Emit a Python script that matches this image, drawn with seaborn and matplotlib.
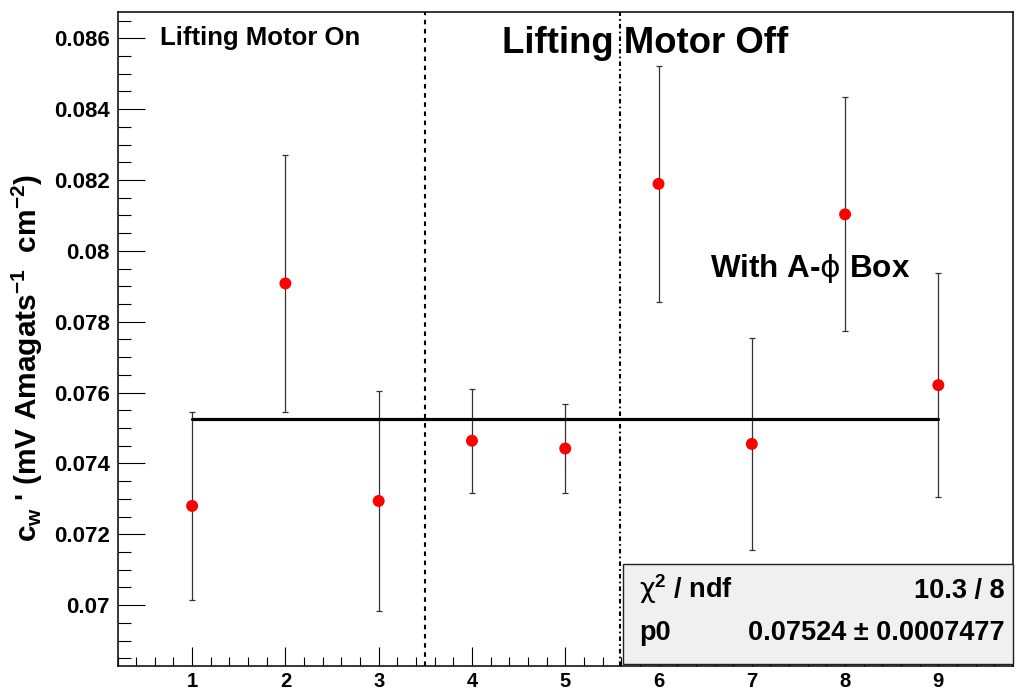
import matplotlib
matplotlib.use("Agg")
import matplotlib.pyplot as plt
import seaborn as sns
import pandas as pd
from matplotlib.patches import Rectangle
from matplotlib.ticker import MultipleLocator, FuncFormatter

# Measurement runs and the extracted coefficient c_w' with its uncertainty
run = [1, 2, 3, 4, 5, 6, 7, 8, 9]
cw = [0.07280, 0.07908, 0.07294, 0.07464, 0.07442, 0.08189, 0.07455, 0.08103, 0.07621]
cw_err = [0.00265, 0.00362, 0.00310, 0.00147, 0.00126, 0.00333, 0.00300, 0.00330, 0.00316]

# Constant (pol0) fit result
fit_p0 = 0.07524
fit_p0_err = 0.0007477
chi2 = 10.3
ndf = 8

# Run boundaries where the lifting motor state changes
motor_boundaries = [3.5, 5.59]

sns.set_style("white")
plt.rcParams.update({
    "font.family": ["Liberation Sans", "DejaVu Sans"],
    "font.weight": "bold",
    "text.color": "black",
    "axes.labelcolor": "black",
    "xtick.color": "black",
    "ytick.color": "black",
    "mathtext.fontset": "custom",
    "mathtext.rm": "Liberation Sans:bold",
    "mathtext.it": "Liberation Sans:bold",
    "mathtext.bf": "Liberation Sans:bold",
    "mathtext.sf": "DejaVu Sans:weight=normal",
})

df = pd.DataFrame({"run": run, "cw": cw, "err": cw_err})

W, H = 1022, 691
fig = plt.figure(figsize=(W / 100, H / 100), dpi=100)
L, R, T, B = 117.5, 1013.0, 11.7, 665.7
ax = fig.add_axes([L / W, 1 - B / H, (R - L) / W, (B - T) / H])

ax.errorbar(df["run"], df["cw"], yerr=df["err"], fmt="none", ecolor="#333333",
            elinewidth=0.9, capsize=2.2, capthick=0.9, zorder=2)
sns.scatterplot(data=df, x="run", y="cw", color="#ff0000", s=74,
                edgecolor="none", ax=ax, zorder=3)

fit_df = pd.DataFrame({"run": [run[0], run[-1]], "cw": [fit_p0, fit_p0]})
sns.lineplot(data=fit_df, x="run", y="cw", color="black", lw=2.3, ax=ax, zorder=4)

ax.axvline(motor_boundaries[0], color="black", lw=1.5, ls=(0, (2.2, 2.2)), zorder=1)
ax.axvline(motor_boundaries[1], color="black", lw=1.5, ls=(0, (2.2, 1.5, 0.8, 1.5)), zorder=1)

ax.set_xlim(0.2, 9.8)
ax.set_ylim(0.06829, 0.08675)
ax.set_xlabel("")
ax.set_ylabel("")

ax.xaxis.set_major_locator(MultipleLocator(1))
ax.xaxis.set_minor_locator(MultipleLocator(0.2))
ax.yaxis.set_major_locator(MultipleLocator(0.002))
ax.yaxis.set_minor_locator(MultipleLocator(0.0005))
ax.yaxis.set_major_formatter(FuncFormatter(lambda v, p: f"{v:.3f}".rstrip("0")))
ax.xaxis.set_major_formatter(FuncFormatter(lambda v, p: f"{int(round(v))}"))

ax.tick_params(axis="x", which="major", direction="in", length=13.7, width=0.8,
               labelsize=14.5, pad=4.5, top=False, bottom=True, colors="black")
ax.tick_params(axis="x", which="minor", direction="in", length=6.8, width=0.8,
               top=False, bottom=True, colors="black")
ax.tick_params(axis="y", which="major", direction="in", length=19.2, width=0.8,
               labelsize=16, pad=5.5, left=True, right=False, colors="black")
ax.tick_params(axis="y", which="minor", direction="in", length=9.6, width=0.8,
               left=True, right=False, colors="black")
for lab in ax.get_xticklabels() + ax.get_yticklabels():
    lab.set_fontweight("bold")

for s in ax.spines.values():
    s.set_visible(True)
    s.set_color("black")
    s.set_linewidth(1.1)

def fx(px):
    return (px - L) / (R - L)

def fy(py):
    return (B - py) / (B - T)

ax.text(fx(160), fy(45), "Lifting Motor On", fontsize=18.5, fontweight="bold",
        ha="left", va="baseline", transform=ax.transAxes)
ax.text(fx(501.7), fy(52.7), "Lifting Motor Off", fontsize=26.3, fontweight="bold",
        ha="left", va="baseline", transform=ax.transAxes)
ax.text(fx(710), fy(276.7), r"With A-$\mathsf{\phi}$ Box", fontsize=22.6, fontweight="bold",
        ha="left", va="baseline", transform=ax.transAxes)

fig.text(27 / W, 1 - 357.5 / H,
         r"$c_{w}$ ' (mV Amagats$^{-1}$  cm$^{-2}$)",
         rotation=90, fontsize=21.5, fontweight="bold", ha="center", va="center")

# Fit statistics box
bx0, by0, bx1, by1 = 622.7, 564.0, 1013.0, 664.3
ax.add_patch(Rectangle((fx(bx0), fy(by1)), fx(bx1) - fx(bx0), fy(by0) - fy(by1),
                       transform=ax.transAxes, facecolor="#f0f0f0", edgecolor="#222222",
                       lw=1.0, clip_on=False, zorder=6))
ax.text(fx(639.3), fy(598), r"$\mathsf{\chi}^{2}$ / ndf", fontsize=19.5, fontweight="bold",
        ha="left", va="baseline", transform=ax.transAxes, zorder=7)
ax.text(fx(1005), fy(598), f"{chi2:.1f} / {ndf}", fontsize=19.5, fontweight="bold",
        ha="right", va="baseline", transform=ax.transAxes, zorder=7)
ax.text(fx(639.3), fy(640), "p0", fontsize=19.5, fontweight="bold",
        ha="left", va="baseline", transform=ax.transAxes, zorder=7)
ax.text(fx(1005), fy(640), f"{fit_p0:.5f} ± {fit_p0_err:.7f}", fontsize=19.5, fontweight="bold",
        ha="right", va="baseline", transform=ax.transAxes, zorder=7)

fig.savefig("out.png", dpi=100)
